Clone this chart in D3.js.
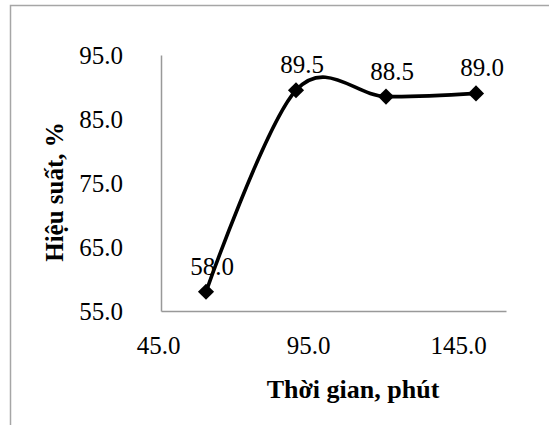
<!DOCTYPE html>
<html>
<head>
<meta charset="utf-8">
<script src="https://cdn.jsdelivr.net/npm/d3@7"></script>
<style>
  html, body { margin: 0; padding: 0; background: #fff; }
  svg { display: block; }
</style>
</head>
<body>
<svg id="chart" width="549" height="425"></svg>
<script>
// Data
const times = [60, 90, 120, 150];
const yields = [58.0, 89.5, 88.5, 89.0];
const xTicks = [45, 95, 145];
const yTicks = [55, 65, 75, 85, 95];
const xTitle = "Thời gian, phút";
const yTitle = "Hiệu suất, %";

const svg = d3.select("#chart");
const font = "'Liberation Serif', 'Times New Roman', serif";

// outer frame
svg.append("rect")
  .attr("x", 10.5).attr("y", 5.5)
  .attr("width", 560).attr("height", 440)
  .attr("fill", "#fff")
  .attr("stroke", "#a6a6a6").attr("stroke-width", 1.5);

const plot = { left: 161, right: 506, top: 55, bottom: 311 };
const x = d3.scaleLinear().domain([45, 160]).range([plot.left, plot.right]);
const y = d3.scaleLinear().domain([55, 95]).range([plot.bottom, plot.top]);

const fmt = d3.format(".1f");

// axes
const xAxis = d3.axisBottom(x).tickValues(xTicks).tickFormat(fmt).tickSize(0).tickPadding(25);
const yAxis = d3.axisLeft(y).tickValues(yTicks).tickFormat(fmt).tickSize(0).tickPadding(38);

const gx = svg.append("g").attr("transform", `translate(0,${plot.bottom})`).call(xAxis);
const gy = svg.append("g").attr("transform", `translate(${plot.left},0)`).call(yAxis);

[gx, gy].forEach(g => {
  g.attr("font-family", null).attr("font-size", null);
  g.select(".domain").attr("stroke", "#999").attr("stroke-width", 1.5);
  g.selectAll("text")
    .attr("fill", "#000")
    .style("font-family", font)
    .style("font-size", "25px");
});
gx.selectAll("text").attr("dx", -3);

// line
const line = d3.line()
  .x((d, i) => x(times[i]))
  .y(d => y(d))
  .curve(d3.curveCardinal.tension(0));

svg.append("path")
  .datum(yields)
  .attr("d", line)
  .attr("fill", "none")
  .attr("stroke", "#000")
  .attr("stroke-width", 3.6);

// markers (diamonds)
const sym = d3.symbol().type(d3.symbolSquare).size(130);
svg.selectAll(".mk")
  .data(yields)
  .join("path")
  .attr("class", "mk")
  .attr("d", sym)
  .attr("transform", (d, i) => `translate(${x(times[i])},${y(d)}) rotate(45)`)
  .attr("fill", "#000");

// data labels
svg.selectAll(".lbl")
  .data(yields)
  .join("text")
  .attr("class", "lbl")
  .attr("x", (d, i) => x(times[i]) + 6)
  .attr("y", d => y(d) - 17)
  .attr("text-anchor", "middle")
  .style("font-family", font)
  .style("font-size", "25px")
  .attr("fill", "#000")
  .text(d => fmt(d));

// axis titles
svg.append("text")
  .attr("x", 353).attr("y", 398)
  .attr("text-anchor", "middle")
  .style("font-family", font)
  .style("font-size", "26px")
  .style("font-weight", "bold")
  .text(xTitle);

svg.append("text")
  .attr("transform", "translate(63,192) rotate(-90)")
  .attr("text-anchor", "middle")
  .style("font-family", font)
  .style("font-size", "25px")
  .style("font-weight", "bold")
  .text(yTitle);
</script>
</body>
</html>
